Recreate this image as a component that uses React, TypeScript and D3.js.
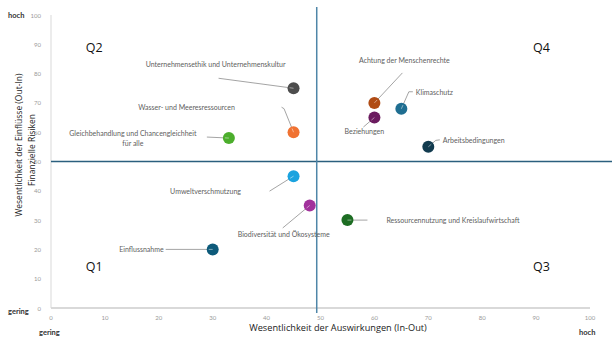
import React from "react";
import * as d3 from "d3";

const topics = [
  "Unternehmensethik und Unternehmenskultur",
  "Wasser- und Meeresressourcen",
  "Gleichbehandlung und Chancengleichheit|für alle",
  "Umweltverschmutzung",
  "Biodiversität und Ökosysteme",
  "Einflussnahme",
  "Ressourcennutzung und Kreislaufwirtschaft",
  "Achtung der Menschenrechte",
  "Beziehungen",
  "Klimaschutz",
  "Arbeitsbedingungen",
];
const impactValues = [45, 45, 33, 45, 48, 30, 55, 60, 60, 65, 70];
const riskValues = [75, 60, 58, 45, 35, 20, 30, 70, 65, 68, 55];
const pointColors = [
  "#4d4d4d", "#f07232", "#4cae2c", "#1ba3df", "#a2329c", "#0d5a7a",
  "#1d6d23", "#b04b14", "#6b1b5f", "#1f6e91", "#123b4f",
];
const tickValues = [0, 10, 20, 30, 40, 50, 60, 70, 80, 90, 100];
const quadrantLabels = ["Q1", "Q2", "Q3", "Q4"];

// label layout (pixel offsets from point): text offset, anchor, leader polyline
type Lay = { dx: number; dy: number; anchor: "start" | "middle" | "end"; line: [number, number][] };
const layout: Lay[] = [
  { dx: -78, dy: -24, anchor: "middle", line: [[-75, -10], [0, 0]] },
  { dx: -107, dy: -25, anchor: "middle", line: [[-12, -25], [-9.5, -23.5], [0, 0]] },
  { dx: -96, dy: -5, anchor: "middle", line: [[-22, -1], [0, 0]] },
  { dx: -88, dy: 15, anchor: "middle", line: [[-24, 15], [0, 0]] },
  { dx: -26, dy: 28.5, anchor: "middle", line: [[-27, 22.5], [0, 0]] },
  { dx: -49, dy: 0, anchor: "end", line: [[-47, 0], [0, 0]] },
  { dx: 39, dy: 0, anchor: "start", line: [[20, 0], [0, 0]] },
  { dx: 30, dy: -43, anchor: "middle", line: [[28, -30], [0, 0]] },
  { dx: -10, dy: 13.5, anchor: "middle", line: [[-11, 9.5], [0, 0]] },
  { dx: 14.5, dy: -17, anchor: "start", line: [[11.5, -17], [7.5, -17], [0, 0]] },
  { dx: 14.5, dy: -7, anchor: "start", line: [[11.5, -7], [7.5, -6.5], [0, 0]] },
];

export default function App() {
  const W = 612, H = 340;
  const x = d3.scaleLinear().domain([0, 100]).range([51, 590]);
  const y = d3.scaleLinear().domain([0, 100]).range([308, 15]);
  const font = "Lato, 'Open Sans', sans-serif";
  const lineGen = d3.line<[number, number]>();
  const qPos: Record<string, [number, number]> = {
    Q1: [8, 14], Q2: [8, 89], Q3: [91, 14], Q4: [91, 89],
  };
  return (
    <div style={{ position: "absolute", left: 0, top: 0 }}>
      <svg width={W} height={H} style={{ display: "block", background: "#fff" }}>
        {/* axes */}
        <line x1={x(0)} x2={x(0)} y1={y(100)} y2={y(0)} stroke="#d9d9d9" strokeWidth={1} />
        <line x1={x(0)} x2={x(100)} y1={y(0)} y2={y(0)} stroke="#d9d9d9" strokeWidth={2} />
        {tickValues.map((t) => (
          <text key={"y" + t} x={41} y={y(t)} textAnchor="end" dominantBaseline="central"
            fontSize={6} fill="#9a9a9a" fontFamily={font}>{t}</text>
        ))}
        {tickValues.map((t) => (
          <text key={"x" + t} x={x(t)} y={317} textAnchor="middle" dominantBaseline="central"
            fontSize={6} fill="#9a9a9a" fontFamily={font}>{t}</text>
        ))}
        {/* dividers */}
        <line x1={x(0)} x2={W} y1={y(50)} y2={y(50)} stroke="#2b5f7e" strokeWidth={1.3} />
        <line x1={x(49.3)} x2={x(49.3)} y1={7} y2={313} stroke="#4f86a8" strokeWidth={1.5} />
        {/* quadrant labels */}
        {quadrantLabels.map((q) => (
          <text key={q} x={x(qPos[q][0])} y={y(qPos[q][1])} textAnchor="middle" dominantBaseline="central"
            fontSize={12.5} fill="#111" fontFamily="'Open Sans', sans-serif">{q}</text>
        ))}
        {/* leader lines */}
        {topics.map((t, i) => {
          const px = x(impactValues[i]), py = y(riskValues[i]);
          const pts = layout[i].line.map(([a, b]) => [px + a, py + b] as [number, number]);
          return <path key={"l" + i} d={lineGen(pts) || ""} fill="none" stroke="#9a9a9a" strokeWidth={0.9} />;
        })}
        {/* points */}
        {topics.map((t, i) => (
          <circle key={"c" + i} cx={x(impactValues[i])} cy={y(riskValues[i])} r={6} fill={pointColors[i]} />
        ))}
        {/* leader inside point */}
        {topics.map((t, i) => {
          const px = x(impactValues[i]), py = y(riskValues[i]);
          const l = layout[i].line;
          const [a, b] = l[l.length - 2];
          const len = Math.hypot(a, b);
          const ex = px + (a / len) * 4, ey = py + (b / len) * 4;
          return <line key={"li" + i} x1={px} y1={py} x2={ex} y2={ey} stroke="#ffffff" strokeOpacity={0.6} strokeWidth={0.8} />;
        })}
        {/* labels */}
        {topics.map((t, i) => {
          const px = x(impactValues[i]), py = y(riskValues[i]);
          const L = layout[i];
          const parts = t.split("|");
          return parts.map((p, k) => (
            <text key={"t" + i + k} x={px + L.dx} y={py + L.dy + k * 10} textAnchor={L.anchor}
              dominantBaseline="central" fontSize={7} fill="#606060" fontFamily={font}>{p}</text>
          ));
        })}
        {/* axis titles */}
        <text x={338} y={327} textAnchor="middle" dominantBaseline="central" fontSize={9.2}
          fill="#222" fontFamily="'Open Sans', sans-serif">Wesentlichkeit der Auswirkungen (In-Out)</text>
        <g transform="translate(18,145) rotate(-90)">
          <text x={0} y={0} textAnchor="middle" dominantBaseline="central" fontSize={8.5}
            fill="#222" fontFamily="'Open Sans', sans-serif">Wesentlichkeit der Einflüsse (Out-In)</text>
        </g>
        <g transform="translate(31,150) rotate(-90)">
          <text x={0} y={0} textAnchor="middle" dominantBaseline="central" fontSize={8.5}
            fill="#222" fontFamily="'Open Sans', sans-serif">Finanzielle Risiken</text>
        </g>
        {/* low/high markers */}
        <text x={8} y={15} dominantBaseline="central" fontSize={7.5} fontWeight="bold" fill="#333" fontFamily={font}>hoch</text>
        <text x={8} y={311} dominantBaseline="central" fontSize={7.5} fontWeight="bold" fill="#333" fontFamily={font}>gering</text>
        <text x={39} y={332} dominantBaseline="central" fontSize={7.5} fontWeight="bold" fill="#333" fontFamily={font}>gering</text>
        <text x={579} y={332} dominantBaseline="central" fontSize={7.5} fontWeight="bold" fill="#333" fontFamily={font}>hoch</text>
      </svg>
    </div>
  );
}
